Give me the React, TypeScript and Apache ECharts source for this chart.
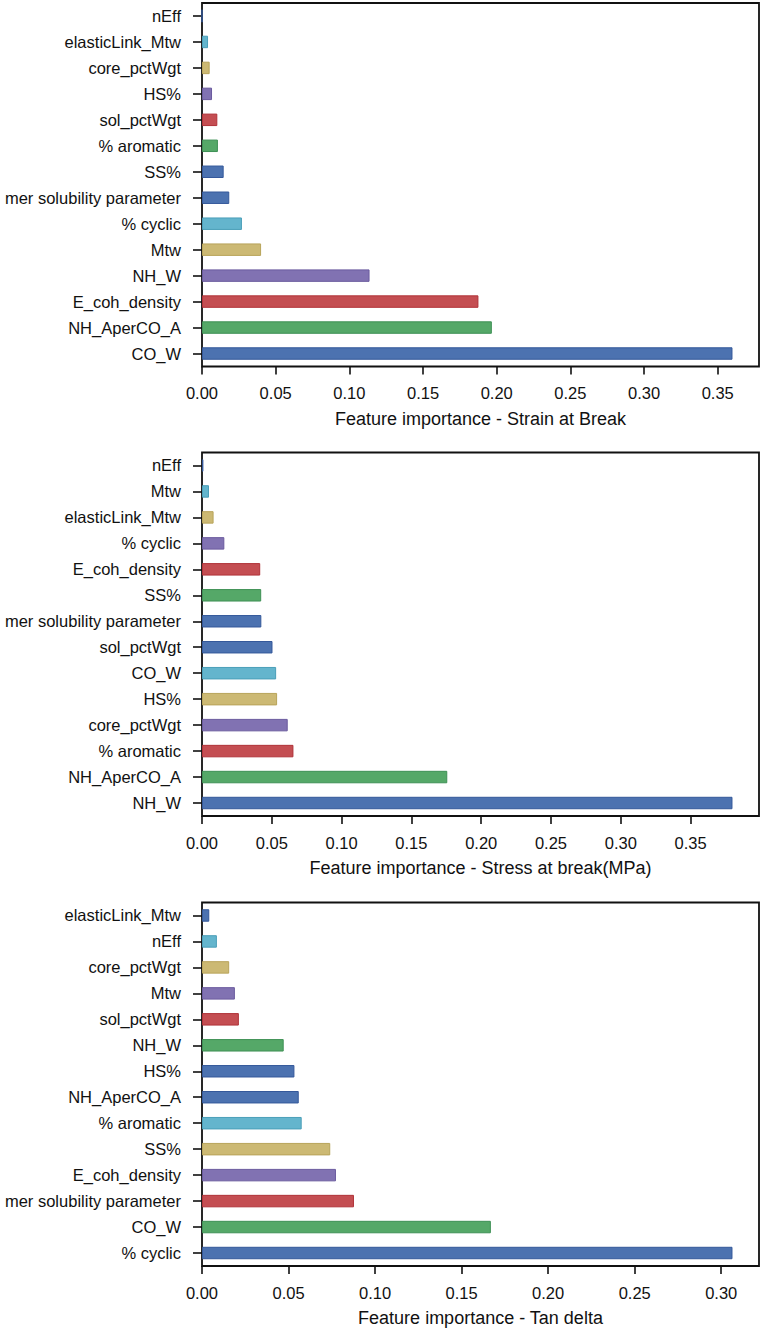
import React, { useEffect, useRef } from "react";
import * as echarts from "echarts";

// Categories listed bottom-to-top (as drawn)
const categories1 = ["CO_W", "NH_AperCO_A", "E_coh_density", "NH_W", "Mtw", "% cyclic", "mer solubility parameter", "SS%", "% aromatic", "sol_pctWgt", "HS%", "core_pctWgt", "elasticLink_Mtw", "nEff"];
const values1 = [0.360, 0.1967, 0.1876, 0.1137, 0.0401, 0.0271, 0.0185, 0.0147, 0.0108, 0.0104, 0.0068, 0.0052, 0.0041, 0.0];
const title1 = "Feature importance - Strain at Break";

const categories2 = ["NH_W", "NH_AperCO_A", "% aromatic", "core_pctWgt", "HS%", "CO_W", "sol_pctWgt", "mer solubility parameter", "SS%", "E_coh_density", "% cyclic", "elasticLink_Mtw", "Mtw", "nEff"];
const values2 = [0.380, 0.1757, 0.0655, 0.0614, 0.0538, 0.0531, 0.0505, 0.0425, 0.0424, 0.0417, 0.016, 0.0083, 0.005, 0.001];
const title2 = "Feature importance - Stress at break(MPa)";

const categories3 = ["% cyclic", "CO_W", "mer solubility parameter", "E_coh_density", "SS%", "% aromatic", "NH_AperCO_A", "HS%", "NH_W", "sol_pctWgt", "Mtw", "core_pctWgt", "nEff", "elasticLink_Mtw"];
const values3 = [0.3065, 0.1669, 0.0878, 0.0774, 0.0741, 0.0576, 0.0559, 0.0534, 0.0472, 0.0213, 0.019, 0.0157, 0.0086, 0.0042];
const title3 = "Feature importance - Tan delta";

const xTicks1 = [0, 0.05, 0.1, 0.15, 0.2, 0.25, 0.3, 0.35];
const xTicks2 = [0, 0.05, 0.1, 0.15, 0.2, 0.25, 0.3, 0.35];
const xTicks3 = [0, 0.05, 0.1, 0.15, 0.2, 0.25, 0.3];

const palette = ["#4C72B0", "#55A868", "#C44E52", "#8172B2", "#CCB974", "#64B5CD", "#4C72B0"];
const edgePalette = ["#34589A", "#3E9055", "#B03238", "#6A5A9E", "#B8A45A", "#4A9EB8", "#34589A"];

const FONT = "'Liberation Sans', Arial, Helvetica, sans-serif";
const INK = "#111111";

export default function App() {
  const ref = useRef<HTMLDivElement>(null);

  useEffect(() => {
    document.body.style.margin = "0";
    document.body.style.overflow = "hidden";
    if (!ref.current) return;
    const chart = echarts.init(ref.current, undefined, { renderer: "svg" });

    const panels = [
      { cats: categories1, vals: values1, ticks: xTicks1, title: title1, top: 3 },
      { cats: categories2, vals: values2, ticks: xTicks2, title: title2, top: 452.5 },
      { cats: categories3, vals: values3, ticks: xTicks3, title: title3, top: 902.5 },
    ];

    const grid: any[] = [];
    const xAxis: any[] = [];
    const yAxis: any[] = [];
    const series: any[] = [];

    panels.forEach((p, i) => {
      grid.push({
        left: 202,
        width: 557,
        top: p.top,
        height: 363.5,
        show: true,
        borderColor: INK,
        borderWidth: 1.8,
        backgroundColor: "transparent",
        containLabel: false,
      });
      const maxV = Math.max(...p.vals) * 1.05;
      xAxis.push({
        type: "value",
        gridIndex: i,
        min: 0,
        max: maxV,
        splitLine: { show: false },
        axisLine: { show: false },
        axisTick: {
          show: true,
          inside: false,
          length: 8,
          lineStyle: { color: INK, width: 1.6 },
          customValues: p.ticks,
        },
        axisLabel: {
          show: true,
          margin: 18,
          fontFamily: FONT,
          fontSize: 16.5,
          color: INK,
          customValues: p.ticks,
          formatter: (v: number) => v.toFixed(2),
        },
        name: p.title,
        nameLocation: "middle",
        nameGap: 43,
        nameTextStyle: { fontFamily: FONT, fontSize: 18, color: INK },
      });
      yAxis.push({
        type: "category",
        gridIndex: i,
        data: p.cats,
        boundaryGap: true,
        axisLine: { show: false },
        axisTick: {
          show: true,
          alignWithLabel: true,
          inside: false,
          length: 9,
          lineStyle: { color: INK, width: 1.6 },
        },
        axisLabel: {
          margin: 21,
          fontFamily: FONT,
          fontSize: 16.5,
          color: INK,
          interval: 0,
        },
        splitLine: { show: false },
      });
      series.push({
        type: "bar",
        xAxisIndex: i,
        yAxisIndex: i,
        barWidth: "48%",
        data: p.vals.map((v, k) => ({
          value: v,
          itemStyle: {
            color: palette[k % palette.length],
            borderColor: edgePalette[k % edgePalette.length],
            borderWidth: 1,
          },
        })),
      });
    });

    chart.setOption({
      animation: false,
      backgroundColor: "#ffffff",
      grid,
      xAxis,
      yAxis,
      series,
    });

    return () => {
      chart.dispose();
    };
  }, []);

  return (
    <div
      ref={ref}
      style={{ position: "absolute", left: 0, top: 0, width: 765, height: 1329 }}
    />
  );
}
